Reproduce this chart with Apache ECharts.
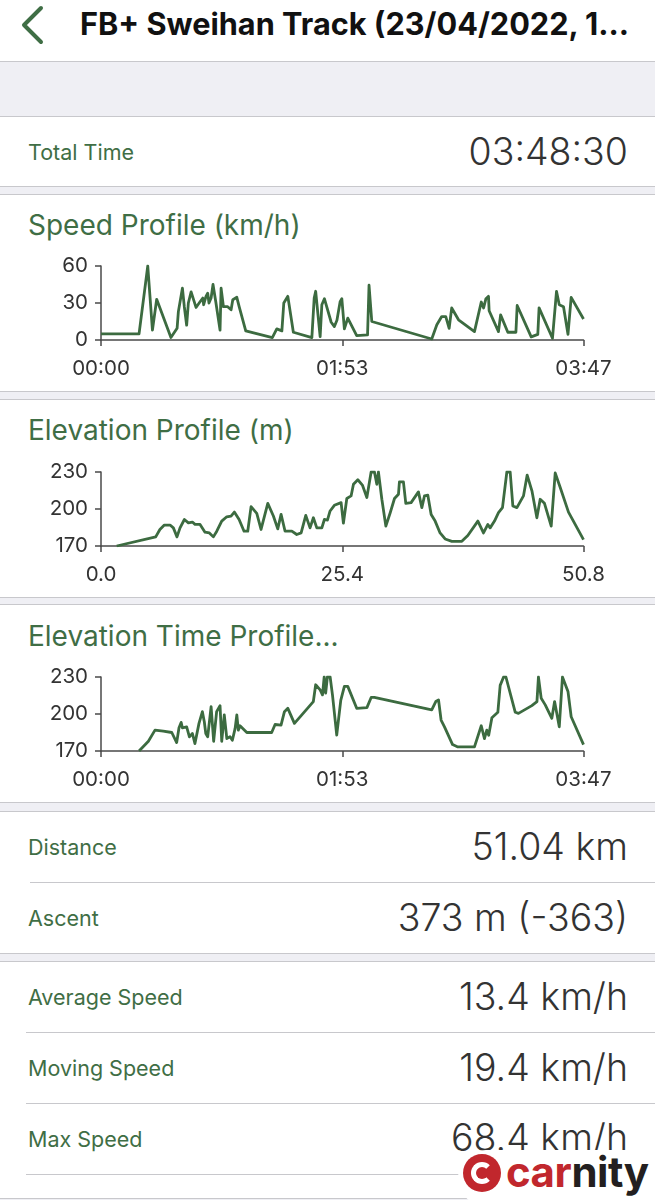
<!DOCTYPE html>
<html>
<head>
<meta charset="utf-8">
<script src="https://cdn.jsdelivr.net/npm/echarts@6/dist/echarts.min.js"></script>
<style>
  html, body { margin:0; padding:0; }
  body { width:655px; height:1200px; background:#efeff4; position:relative; overflow:hidden;
         font-family: "Inter", "Roboto", "Liberation Sans", sans-serif; }
  .blk { position:absolute; left:0; width:655px; background:#fff; }
  .line { position:absolute; height:1px; background:#c8c8cc; }
  .lbl { position:absolute; left:28px; color:#3f6e45; font-size:21.5px; line-height:26px; }
  .val { position:absolute; right:27px; color:#333; font-size:37.5px; line-height:42px; font-weight:300; }
  .ttl { position:absolute; left:28px; color:#3f6e45; font-size:28px; line-height:32px; }
  .chart { position:absolute; left:0; width:655px; height:140px; }
</style>
</head>
<body>
<!-- header -->
<div class="blk" style="top:0;height:61px;"></div>
<svg style="position:absolute;left:0;top:0" width="60" height="60">
  <polyline points="41,8 24,25 41,42" fill="none" stroke="#3f6e45" stroke-width="4" stroke-linecap="round" stroke-linejoin="round"/>
</svg>
<div style="position:absolute;left:80px;top:5px;font-size:30.7px;line-height:38px;font-weight:700;color:#111;white-space:nowrap;">FB+ Sweihan Track (23/04/2022, 1...</div>
<div class="line" style="top:61px;left:0;width:655px;"></div>

<!-- total time -->
<div class="line" style="top:116px;left:0;width:655px;"></div>
<div class="blk" style="top:117px;height:69px;"></div>
<div class="lbl" style="top:139px;">Total Time</div>
<div class="val" style="top:131px;">03:48:30</div>
<div class="line" style="top:186px;left:0;width:655px;"></div>

<!-- chart cards -->
<div class="line" style="top:194px;left:0;width:655px;"></div>
<div class="blk" style="top:195px;height:196px;"></div>
<div class="ttl" style="top:209px;">Speed Profile (km/h)</div>
<div class="line" style="top:391px;left:0;width:655px;"></div>

<div class="line" style="top:399px;left:0;width:655px;"></div>
<div class="blk" style="top:400px;height:197px;"></div>
<div class="ttl" style="top:414px;">Elevation Profile (m)</div>
<div class="line" style="top:597px;left:0;width:655px;"></div>

<div class="line" style="top:604px;left:0;width:655px;"></div>
<div class="blk" style="top:605px;height:197px;"></div>
<div class="ttl" style="top:620px;">Elevation Time Profile...</div>
<div class="line" style="top:802px;left:0;width:655px;"></div>

<div id="c1" class="chart" style="top:245px;"></div>
<div id="c2" class="chart" style="top:451px;"></div>
<div id="c3" class="chart" style="top:656px;"></div>

<!-- distance / ascent -->
<div class="line" style="top:811px;left:0;width:655px;"></div>
<div class="blk" style="top:812px;height:141px;"></div>
<div class="lbl" style="top:834px;">Distance</div>
<div class="val" style="top:826px;">51.04 km</div>
<div class="line" style="top:882px;left:30px;width:625px;"></div>
<div class="lbl" style="top:905px;">Ascent</div>
<div class="val" style="top:897px;">373 m (-363)</div>
<div class="line" style="top:953px;left:0;width:655px;"></div>

<!-- speeds -->
<div class="line" style="top:961px;left:0;width:655px;"></div>
<div class="blk" style="top:962px;height:237px;"></div>
<div class="lbl" style="top:984px;">Average Speed</div>
<div class="val" style="top:976px;">13.4 km/h</div>
<div class="line" style="top:1032px;left:26px;width:629px;"></div>
<div class="lbl" style="top:1055px;">Moving Speed</div>
<div class="val" style="top:1047px;">19.4 km/h</div>
<div class="line" style="top:1103px;left:26px;width:629px;"></div>
<div class="lbl" style="top:1126px;">Max Speed</div>
<div class="val" style="top:1117px;">68.4 km/h</div>
<div class="line" style="top:1174px;left:26px;width:629px;"></div>
<div class="line" style="top:1198px;left:0;width:655px;"></div>

<!-- watermark -->
<div style="position:absolute;left:458px;top:1150px;width:200px;height:56px;background:#fff;border-radius:28px 0 0 28px;"></div>
<div style="position:absolute;left:463px;top:1154px;width:38px;height:38px;border-radius:50%;background:#c1272d;"></div>
<div style="position:absolute;left:471px;top:1162px;width:22px;height:22px;border-radius:50%;border:5px solid #fff;box-sizing:border-box;border-right-color:transparent;"></div>
<div style="position:absolute;left:506px;top:1148px;font-size:42px;line-height:48px;font-weight:700;letter-spacing:-0.5px;"><span style="color:#c1272d">car</span><span style="color:#231f20">nity</span></div>

<script>
// ---- data ----
const speedMinutes = [0,17.9,22,24.2,26.2,32.9,35.8,36.4,38.3,39.2,40.3,41.1,42.4,43.3,44.7,46.6,47.9,48.3,49.4,50.2,50.8,51.8,52.7,54,56,56.5,57.6,59.6,60.4,61.2,62,63.9,65,68.1,80.6,82.7,85.1,86,87.9,90.5,99.2,100.3,101,103.1,103.9,105.1,108.3,109.8,111,112.5,113.3,114.5,116.1,120.3,125.4,126.1,126.6,127.4,155.6,158,160.3,162.2,163.8,165,168.2,175.7,178.9,180,181.1,182.3,182.6,183.5,187,188,191.4,195.2,195.8,202.4,205.5,206.1,207,212.4,214.3,215.6,217.6,219.7,221.2,227];
const speedKmh = [5,5,60,8,33,2,9.5,23,42,27,12,30,39,39.5,26.4,31,34,28.6,35.4,38,30,34,45,31,8,42,27,27,26,24.5,32.7,34.6,27,7.4,1.9,9,7.4,30,35.4,6.3,1.9,34,39.5,2.7,28.6,33.5,14.4,10.9,16,31,33.5,9,17.7,3.5,4.1,44.4,44.4,15,0.8,12.3,19,19,9.5,26,16.4,6.8,30.8,26,33.5,35.4,23.7,24.5,6.8,20.4,6.3,6.3,28,2.5,4.6,26,25.3,1.4,39.5,28.6,27,4.6,34.6,17];

const elevKm = [1.65,5.76,6.2,6.67,7.27,7.62,8.0,8.32,8.78,9.2,9.62,9.9,10.43,10.95,11.41,11.83,12.19,12.71,13.24,13.69,14.04,14.54,15.06,15.45,15.8,16.4,16.85,17.56,18.15,18.61,18.96,19.38,20.09,20.61,21.07,21.56,22.01,22.36,22.72,23.25,23.52,23.84,24.12,24.57,25.28,25.52,25.88,26.33,26.58,27.04,27.52,27.99,28.44,28.79,29.04,29.21,29.42,29.57,29.99,30.45,30.9,31.32,31.42,31.84,32.09,32.65,33.42,33.78,34.06,34.41,34.76,35.18,35.7,36.23,36.94,37.99,38.62,39.68,40.27,40.73,40.97,41.43,41.85,42.27,42.73,43.08,43.36,43.79,44.48,44.87,45.37,45.89,46.24,46.69,47.4,47.82,48.35,49.22,50.8];
const elevM = [170,177.4,183.4,187,187,184.7,177.4,184.7,191.5,188.8,189.4,187.5,187.5,181.2,180.6,177.4,182,190.2,193.7,194.3,197.5,191.5,182,182,201.9,196.5,183.4,204.6,194.3,183.9,195.6,182,182,179.3,180.6,194.8,184.7,192.9,184.7,184.7,191.5,191,198.4,203,205.2,188.5,208.5,210.6,220,223.7,219.4,209.3,230,230,220,230,230,207.9,186.1,197,208.5,212,222,222,204.6,205.2,213.9,201.1,210.6,211.2,195.6,190.2,180.6,175.7,173.8,173.8,178.5,190.2,180.6,187.5,184.7,190.2,197,201.1,230,230,202.5,201.1,210.6,227.5,214.7,192.9,207.9,204.6,186.1,229.2,217.5,197.5,175.2];

const elevTimeMinutes = [17.9,22.3,25.4,29.3,33.3,35.6,36.7,37.7,38.3,40.3,41.6,43,44.2,46.1,47.7,48.6,49.3,50.2,51.8,53,54.4,56,56.8,58,59.2,60.7,61.8,63.1,63.9,64.6,65.4,68.6,80.3,81.9,84.7,86.3,87.9,91,99.9,101,103.1,104.2,105,105.7,106.5,107.8,108.9,110.9,112.8,114.5,116.1,120.3,125.1,127.1,128.6,155.6,157.5,158.8,160,161.6,165.4,167.9,175.7,178.9,180.4,181.5,182.4,183.9,186.7,187.8,189.4,190.5,194.9,196.4,202.7,205.1,205.8,207.1,209,212.1,213.4,215.6,216.2,217.1,219.7,221.2,227];
const elevTimeM = [170,177.9,186.9,186.1,185,176.8,188.8,193.2,188.8,189.6,181.5,184.2,176,192.4,201.9,193.7,184.2,181.5,206,177.9,201.9,206.8,177.9,199.2,180.1,181.5,178.7,188.3,199.2,186.9,190.5,185,185,191.5,191,201.9,204.6,192.4,210.1,223.7,219.6,215.5,230,216.9,230,230,215.5,182.8,211,222.4,222.4,204.6,205.2,213.4,213.4,203.3,210.1,211.4,195.1,189.6,175.2,173.3,173.3,190.5,180.1,186.9,182.8,197,201.4,223.2,230,230,201.4,200.5,206.8,210.1,230,212.8,207.4,196.5,210.1,189.6,189.6,230,218.3,197.8,175.2];

const timeAxisMax = 227;      // minutes (03:47)
const distAxisMax = 50.8;     // km
const speedTicks = [0, 30, 60];
const elevTicks = [170, 200, 230];

// ---- helpers ----
const FONT = 'Inter, Roboto, "Liberation Sans", sans-serif';
const LINE_COLOR = '#3c6b40';
const AXIS_COLOR = '#4a4a4a';
function pairs(xs, ys) { return xs.map((x, i) => [x, ys[i]]); }
function hhmm(v) {
  const m = Math.round(v * 1000) / 1000;
  const h = Math.floor(m / 60), mm = Math.floor(m % 60);
  return String(h).padStart(2, '0') + ':' + String(mm).padStart(2, '0');
}
function makeOption(data, xMax, xFmt, yTicks) {
  return {
    animation: false,
    grid: { left: 101, right: 71.5, top: 21, height: 74 },
    xAxis: {
      type: 'value', min: 0, max: xMax, interval: xMax / 2,
      axisLine: { show: true, lineStyle: { color: AXIS_COLOR, width: 1.5 } },
      axisTick: { show: true, length: 6, lineStyle: { color: AXIS_COLOR, width: 1.5 } },
      splitLine: { show: false },
      axisLabel: { formatter: xFmt, color: '#333', fontSize: 20.5, fontFamily: FONT, margin: 18,
                   showMinLabel: true, showMaxLabel: true }
    },
    yAxis: {
      type: 'value', min: yTicks[0], max: yTicks[yTicks.length - 1], interval: yTicks[1] - yTicks[0],
      axisLine: { show: true, lineStyle: { color: AXIS_COLOR, width: 1.5 } },
      axisTick: { show: true, length: 6, lineStyle: { color: AXIS_COLOR, width: 1.5 } },
      splitLine: { show: false },
      axisLabel: { color: '#333', fontSize: 20.5, fontFamily: FONT, margin: 13 }
    },
    series: [{
      type: 'line', data: data, showSymbol: false, symbol: 'none',
      lineStyle: { color: LINE_COLOR, width: 2.8, join: 'round' },
      clip: true
    }]
  };
}

echarts.init(document.getElementById('c1'), null, { renderer: 'canvas' })
  .setOption(makeOption(pairs(speedMinutes, speedKmh), timeAxisMax, hhmm, speedTicks));
echarts.init(document.getElementById('c2'), null, { renderer: 'canvas' })
  .setOption(makeOption(pairs(elevKm, elevM), distAxisMax, v => v.toFixed(1), elevTicks));
echarts.init(document.getElementById('c3'), null, { renderer: 'canvas' })
  .setOption(makeOption(pairs(elevTimeMinutes, elevTimeM), timeAxisMax, hhmm, elevTicks));
</script>
</body>
</html>
